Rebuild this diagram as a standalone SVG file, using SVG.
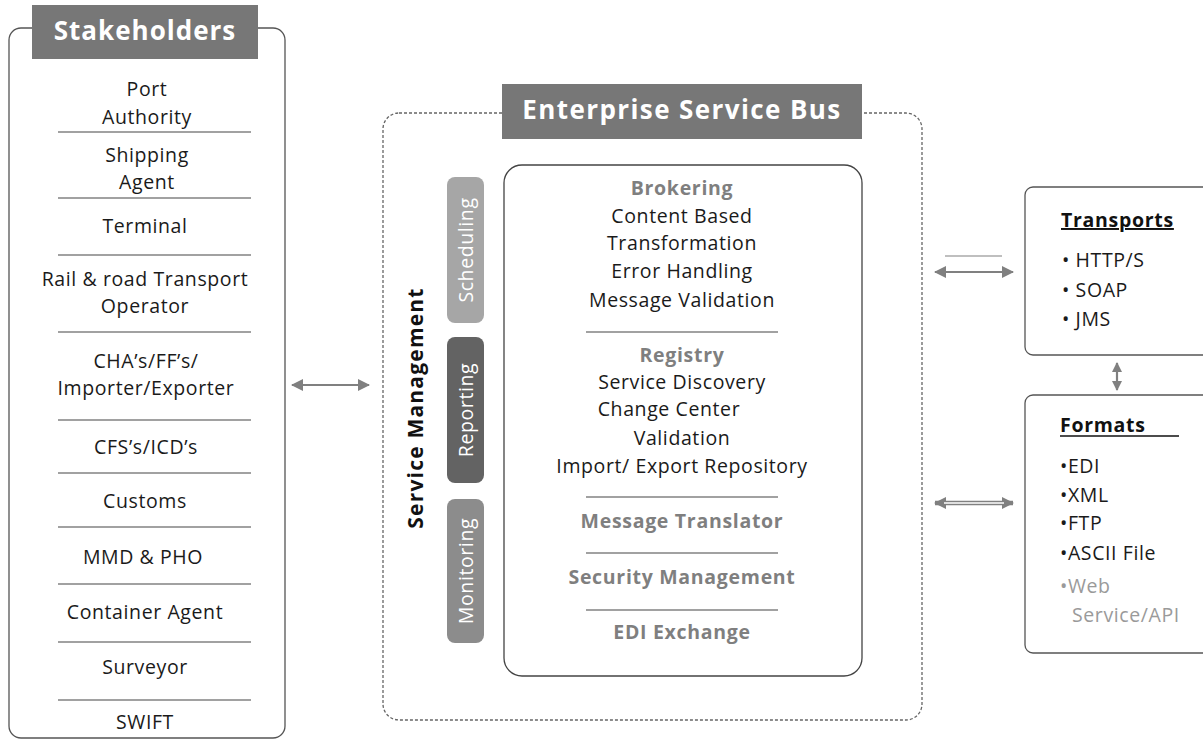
<svg xmlns="http://www.w3.org/2000/svg" width="1203" height="742" viewBox="0 0 1203 742">
<defs>
<style>
text{font-family:"Open Sans","Liberation Sans",sans-serif;}
.t{font-size:19.5px;fill:#1a1a1a;text-anchor:middle;letter-spacing:0.6px;}
.h{font-size:19.5px;fill:#7f7f7f;font-weight:bold;text-anchor:middle;letter-spacing:0.7px;}
.ttl{font-size:26px;fill:#ffffff;font-weight:bold;text-anchor:middle;letter-spacing:1px;}
.pill{font-size:19.5px;fill:#ffffff;text-anchor:middle;letter-spacing:0.6px;}
.sep{stroke:#444;stroke-width:1.2;}
.it{font-size:19.5px;fill:#1a1a1a;letter-spacing:0.6px;}
.arr{stroke:#808080;stroke-width:2.2;fill:none;}
</style>
<marker id="ah" viewBox="0 0 12 12" refX="11" refY="6" markerWidth="12" markerHeight="12" markerUnits="userSpaceOnUse" orient="auto-start-reverse">
<path d="M0,0 L12,6 L0,12 Z" fill="#808080"/>
</marker>
<marker id="ahs" viewBox="0 0 10 10" refX="9" refY="5" markerWidth="10" markerHeight="10" markerUnits="userSpaceOnUse" orient="auto-start-reverse">
<path d="M0,0 L10,5 L0,10 Z" fill="#808080"/>
</marker>
</defs>
<rect width="1203" height="742" fill="#ffffff"/>

<g id="stakeholders">
<rect x="9" y="28" width="276" height="710" rx="12" fill="none" stroke="#555" stroke-width="1.3"/>
<rect x="32" y="5" width="226" height="54" fill="#777777"/>
<text class="ttl" x="145" y="40">Stakeholders</text>
<text class="t" x="147" y="96">Port</text>
<text class="t" x="147" y="124">Authority</text>
<line class="sep" x1="58" y1="132" x2="251" y2="132"/>
<text class="t" x="147" y="162">Shipping</text>
<text class="t" x="147" y="189">Agent</text>
<line class="sep" x1="58" y1="198" x2="251" y2="198"/>
<text class="t" x="145" y="233">Terminal</text>
<line class="sep" x1="58" y1="255" x2="251" y2="255"/>
<text class="t" x="145" y="286">Rail &amp; road Transport</text>
<text class="t" x="145" y="313">Operator</text>
<line class="sep" x1="58" y1="332" x2="251" y2="332"/>
<text class="t" x="146" y="368">CHA’s/FF’s/</text>
<text class="t" x="146" y="395">Importer/Exporter</text>
<line class="sep" x1="58" y1="420" x2="251" y2="420"/>
<text class="t" x="146" y="454">CFS’s/ICD’s</text>
<line class="sep" x1="58" y1="473" x2="251" y2="473"/>
<text class="t" x="145" y="508">Customs</text>
<line class="sep" x1="58" y1="527" x2="251" y2="527"/>
<text class="t" x="143" y="564">MMD &amp; PHO</text>
<line class="sep" x1="58" y1="584" x2="251" y2="584"/>
<text class="t" x="145" y="619">Container Agent</text>
<line class="sep" x1="58" y1="642" x2="251" y2="642"/>
<text class="t" x="145" y="674">Surveyor</text>
<line class="sep" x1="58" y1="700" x2="251" y2="700"/>
<text class="t" x="145" y="729">SWIFT</text>
</g>

<g id="esb">
<rect x="383" y="113" width="539" height="607" rx="16" fill="none" stroke="#666" stroke-width="1.3" stroke-dasharray="3,2"/>
<rect x="502" y="84" width="360" height="55" fill="#777777"/>
<text class="ttl" x="682" y="119" style="letter-spacing:1.4px">Enterprise Service Bus</text>
</g>

<g id="service-management">
<text x="0" y="0" transform="translate(423,408) rotate(-90)" style="font-size:21px;font-weight:bold;fill:#111;text-anchor:middle;letter-spacing:1.2px">Service Management</text>
</g>
<g id="scheduling">
<rect x="447" y="177" width="37" height="146" rx="8" fill="#a6a6a6"/>
<text class="pill" transform="translate(472.5,250) rotate(-90)">Scheduling</text>
</g>
<g id="reporting">
<rect x="447" y="337" width="37" height="146" rx="8" fill="#636363"/>
<text class="pill" transform="translate(472.5,410) rotate(-90)">Reporting</text>
</g>
<g id="monitoring">
<rect x="447" y="499" width="37" height="144" rx="8" fill="#8c8c8c"/>
<text class="pill" transform="translate(472.5,571) rotate(-90)">Monitoring</text>
</g>

<g id="core">
<rect x="504" y="165" width="358" height="511" rx="18" fill="none" stroke="#444" stroke-width="1.3"/>
<text class="h" x="682" y="195">Brokering</text>
<text class="t" x="682" y="223">Content Based</text>
<text class="t" x="682" y="250">Transformation</text>
<text class="t" x="682" y="278">Error Handling</text>
<text class="t" x="682" y="307">Message Validation</text>
<line class="sep" x1="586" y1="332" x2="778" y2="332"/>
<text class="h" x="682" y="362">Registry</text>
<text class="t" x="682" y="389">Service Discovery</text>
<text class="t" x="669" y="416">Change Center</text>
<text class="t" x="682" y="445">Validation</text>
<text class="t" x="682" y="473">Import/ Export Repository</text>
<line class="sep" x1="586" y1="497" x2="778" y2="497"/>
<text class="h" x="682" y="528">Message Translator</text>
<line class="sep" x1="586" y1="553" x2="778" y2="553"/>
<text class="h" x="682" y="584">Security Management</text>
<line class="sep" x1="586" y1="610" x2="778" y2="610"/>
<text class="h" x="682" y="639">EDI Exchange</text>
</g>

<g id="transports">
<rect x="1025" y="187" width="200" height="168" rx="8" fill="none" stroke="#555" stroke-width="1.3"/>
<text x="1061" y="227" style="font-size:19.5px;font-weight:bold;fill:#111;text-decoration:underline;letter-spacing:0.7px">Transports</text>
<text class="it" x="1062" y="267">• HTTP/S</text>
<text class="it" x="1062" y="297">• SOAP</text>
<text class="it" x="1062" y="326">• JMS</text>
</g>

<g id="formats">
<rect x="1025" y="395" width="200" height="258" rx="8" fill="none" stroke="#555" stroke-width="1.3"/>
<text x="1060" y="432" style="font-size:19.5px;font-weight:bold;fill:#111;letter-spacing:0.7px">Formats</text>
<line x1="1060" y1="436" x2="1179" y2="436" stroke="#111" stroke-width="1.5"/>
<text class="it" x="1060" y="473">•EDI</text>
<text class="it" x="1060" y="502">•XML</text>
<text class="it" x="1060" y="530">•FTP</text>
<text class="it" x="1060" y="560">•ASCII File</text>
<text class="it" x="1060" y="593" style="fill:#9a9a9a">•Web</text>
<text class="it" x="1072" y="622" style="fill:#9a9a9a">Service/API</text>
</g>

<g id="connectors">
<line class="arr" x1="292" y1="385" x2="369" y2="385" marker-start="url(#ah)" marker-end="url(#ah)"/>
<line x1="945" y1="256" x2="1002" y2="256" stroke="#aaaaaa" stroke-width="1.5"/>
<line class="arr" x1="935" y1="272" x2="1013" y2="272" marker-start="url(#ah)" marker-end="url(#ah)"/>
<line x1="935" y1="503" x2="1013" y2="503" stroke="#808080" stroke-width="4.5" marker-start="url(#ah)" marker-end="url(#ah)"/>
<line x1="944" y1="503" x2="1004" y2="503" stroke="#ffffff" stroke-width="1.5"/>
<line class="arr" x1="1117" y1="363" x2="1117" y2="390" stroke-width="2.5" marker-start="url(#ahs)" marker-end="url(#ahs)"/>
</g>
</svg>
